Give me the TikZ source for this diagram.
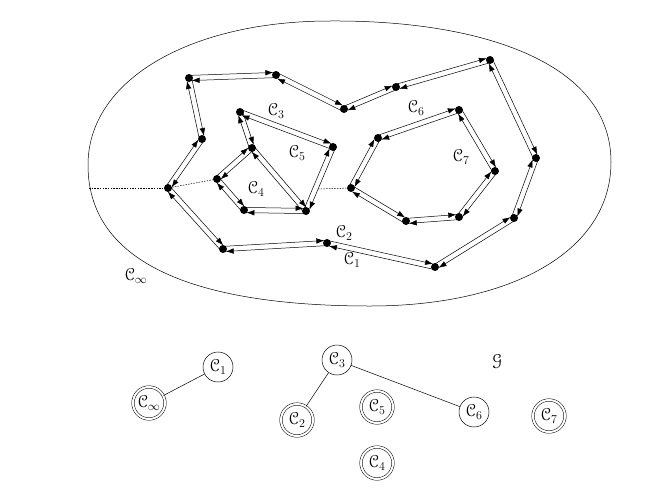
\documentclass[tikz,border=0pt]{standalone}
\usepackage{eucal}
\usetikzlibrary{calc,arrows.meta}

\tikzset{
  vtx/.style={circle, fill, inner sep=0pt, minimum size=8pt},
  half/.style={line width=0.5pt, -{Latex[length=8pt,width=5.5pt]}, shorten <=2pt, shorten >=2.5pt},
  comp/.style={circle, draw, line width=0.5pt, minimum size=30pt, inner sep=0pt, font=\LARGE},
  leaf/.style={comp, double, double distance=2pt, minimum size=32pt},
  lab/.style={font=\LARGE},
  tree/.style={dash pattern=on 1.5pt off 1.2pt, line width=0.5pt}
}

% two half-edges, each one on its own left side
\def\off{2.6pt}
\newcommand{\dedge}[2]{%
  \draw[half] ($(#1)!\off!90:(#2)$) -- ($(#2)!\off!-90:(#1)$);
  \draw[half] ($(#2)!\off!90:(#1)$) -- ($(#1)!\off!-90:(#2)$);
}

\begin{document}
\begin{tikzpicture}[x=1pt, y=-1pt]
\useasboundingbox (0,0) rectangle (661,490);

% Draw the outer region
\draw[line width=0.5pt] (88,165) .. controls (88,80) and (190,21) .. (330,21)
  .. controls (480,20) and (611,62) .. (611,162)
  .. controls (611,252) and (510,306) .. (370,306)
  .. controls (210,306) and (88,270) .. (88,165);
\coordinate (rim) at (89,188);
\coordinate (cut) at (318,189);

% Outer cycle
\node[vtx] (A) at (189,78) {};
\node[vtx] (B) at (276,75) {};
\node[vtx] (C) at (344,109) {};
\node[vtx] (D) at (396,87) {};
\node[vtx] (E) at (490,60) {};
\node[vtx] (F) at (536,158) {};
\node[vtx] (G) at (514,218) {};
\node[vtx] (H) at (435,267) {};
\node[vtx] (I) at (327,243) {};
\node[vtx] (J) at (223,249) {};
\node[vtx] (K) at (168,188) {};
\node[vtx] (L) at (202,139) {};

% Left inner cycle
\node[vtx] (P1) at (240,112) {};
\node[vtx] (P2) at (333,147) {};
\node[vtx] (P3) at (306,211) {};
\node[vtx] (P4) at (244,210) {};
\node[vtx] (P5) at (217,179) {};
\node[vtx] (P6) at (252,148) {};

% Right inner cycle
\node[vtx] (Q1) at (378,138) {};
\node[vtx] (Q2) at (459,110) {};
\node[vtx] (Q3) at (495,171) {};
\node[vtx] (Q4) at (459,217) {};
\node[vtx] (Q5) at (406,221) {};
\node[vtx] (Q6) at (351,188) {};

\foreach \u/\v in {A/B, B/C, C/D, D/E, E/F, F/G, G/H, H/I, I/J, J/K, K/L, L/A,
                   P1/P2, P2/P3, P3/P4, P4/P5, P5/P6, P6/P1, P6/P3,
                   Q1/Q2, Q2/Q3, Q3/Q4, Q4/Q5, Q5/Q6, Q6/Q1}
  \dedge{\u}{\v};

\draw[tree] (rim) -- (K);
\draw[tree] (K) -- (P5);
\draw[tree] (cut) -- (Q6);

% Face labels
\node[lab] (f1) at (352,260) {$\mathcal{C}_1$};
\node[lab] (f2) at (344,233) {$\mathcal{C}_2$};
\node[lab] (f3) at (276,111) {$\mathcal{C}_3$};
\node[lab] (f4) at (256,189) {$\mathcal{C}_4$};
\node[lab] (f5) at (297,153) {$\mathcal{C}_5$};
\node[lab] (f6) at (416,108) {$\mathcal{C}_6$};
\node[lab] (f7) at (461,157) {$\mathcal{C}_7$};
\node[lab] (finf) at (136,276) {$\mathcal{C}_\infty$};

% The graph of faces
\node[comp] (c1) at (218,367) {$\mathcal{C}_1$};
\node[leaf] (cinf) at (149,403) {$\mathcal{C}_\infty$};
\node[comp] (c3) at (337,360) {$\mathcal{C}_3$};
\node[leaf] (c2) at (297,420) {$\mathcal{C}_2$};
\node[leaf] (c5) at (377,407) {$\mathcal{C}_5$};
\node[comp] (c6) at (474,412) {$\mathcal{C}_6$};
\node[leaf] (c7) at (549,416) {$\mathcal{C}_7$};
\node[leaf] (c4) at (377,463) {$\mathcal{C}_4$};
\node[lab] (gname) at (497,362) {$\mathcal{G}$};

\draw[line width=0.5pt] (c1) -- (cinf);
\draw[line width=0.5pt] (c3) -- (c2);
\draw[line width=0.5pt] (c3) -- (c6);
\end{tikzpicture}
\end{document}
